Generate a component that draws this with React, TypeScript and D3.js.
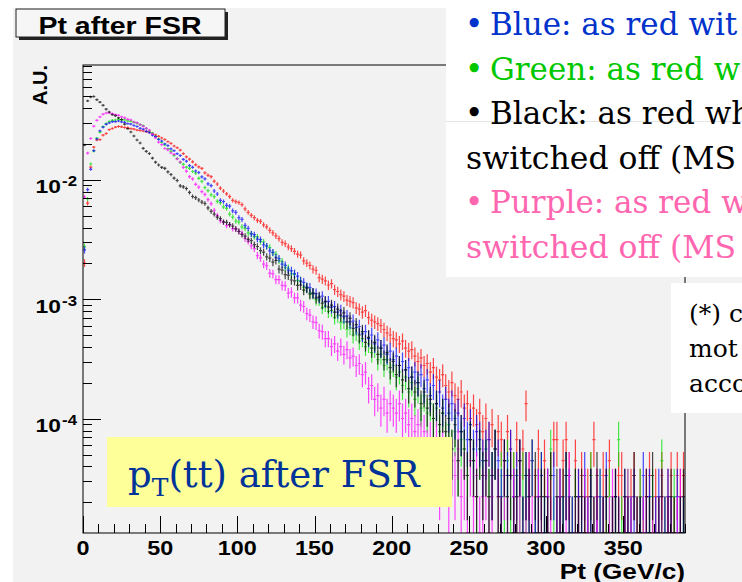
import React from "react";
import * as d3 from "d3";

// ---- data (entries per 2 GeV bin, normalised by UNIT to A.U.) ----
const UNIT = 1.12e-5;
const BIN_GEV = 2;
const X_MAX = 390;
const Y_MIN = 1.11e-5;
const Y_MAX = 0.0917;
const xTickLabels = [0, 50, 100, 150, 200, 250, 300, 350];
const yDecadeExponents = [-4, -3, -2];

const redCounts = [
  180, 571, 1143, 1679, 1929, 1946, 2116, 2188, 2357, 2410,
  2475, 2502, 2488, 2455, 2440, 2405, 2380, 2336, 2318, 2296,
  2270, 2244, 2175, 2128, 2070, 2004, 1948, 1872, 1806, 1718,
  1662, 1589, 1484, 1396, 1332, 1268, 1196, 1148, 1116, 1024,
  978, 952, 872, 826, 764, 722, 684, 648, 604, 588,
  578, 556, 512, 478, 452, 432, 410, 402, 376, 362,
  338, 322, 304, 288, 268, 262, 246, 238, 226, 214,
  210, 188, 180, 172, 160, 156, 136, 132, 128, 118,
  121, 108, 104, 98, 95, 88, 86, 84, 76, 74,
  70, 72, 63, 60, 58, 56, 54, 50, 47, 45,
  42, 41, 38, 40, 35, 33, 34, 30, 27, 29,
  25, 26, 22, 24, 20, 19, 21, 17, 15, 18,
  14, 13, 15, 11, 12, 9, 11, 8, 10, 7,
  9, 6, 8, 5, 7, 6, 4, 7, 5, 3,
  6, 4, 5, 12, 3, 4, 2, 5, 3, 4,
  2, 3, 6, 6, 2, 4, 6, 3, 1, 4,
  2, 3, 1, 2, 3, 6, 2, 1, 3, 2,
  4, 1, 2, 3, 3, 1, 0, 2, 3, 1,
  2, 1, 2, 3, 1, 2, 0, 3, 1, 2,
  3, 1, 3, 2, 3,
];

const blueCounts = [
  232, 741, 1098, 1572, 1968, 2301, 2467, 2612, 2681, 2744,
  2752, 2781, 2733, 2712, 2648, 2620, 2549, 2501, 2418, 2372,
  2281, 2224, 2118, 2062, 1948, 1893, 1790, 1733, 1628, 1571,
  1482, 1431, 1329, 1282, 1178, 1141, 1062, 1031, 948, 912,
  828, 801, 722, 681, 603, 590, 548, 539, 492, 478,
  432, 418, 372, 351, 316, 311, 286, 283, 256, 250,
  228, 221, 201, 196, 176, 172, 157, 155, 147, 140,
  127, 124, 113, 112, 101, 100, 92, 95, 85, 86,
  77, 78, 70, 72, 64, 65, 58, 59, 52, 53,
  46, 48, 42, 45, 38, 41, 35, 37, 31, 33,
  28, 30, 25, 27, 23, 24, 20, 22, 18, 21,
  16, 19, 14, 17, 12, 15, 11, 13, 10, 12,
  9, 10, 7, 9, 6, 8, 5, 7, 6, 4,
  5, 6, 3, 5, 4, 2, 4, 3, 5, 2,
  3, 4, 1, 3, 2, 4, 1, 2, 3, 1,
  2, 0, 3, 1, 2, 1, 3, 2, 1, 0,
  2, 1, 3, 1, 2, 0, 1, 2, 1, 3,
  0, 1, 2, 1, 0, 2, 1, 1, 2, 0,
  1, 3, 1, 2, 0, 1, 2, 0, 1, 2,
  1, 0, 2, 1, 1,
];

const greenCounts = [
  247, 620, 1214, 1560, 2003, 2238, 2497, 2651, 2755, 2823,
  2838, 2871, 2842, 2847, 2796, 2768, 2713, 2668, 2594, 2547,
  2408, 2296, 2213, 2071, 1968, 1842, 1751, 1632, 1548, 1432,
  1351, 1253, 1208, 1142, 1118, 1052, 1017, 922, 868, 772,
  728, 671, 648, 592, 576, 533, 516, 462, 437, 404,
  396, 362, 351, 322, 318, 299, 298, 273, 271, 250,
  243, 219, 213, 190, 185, 166, 162, 146, 145, 129,
  127, 113, 112, 101, 99, 89, 88, 76, 79, 71,
  72, 63, 65, 57, 58, 50, 52, 45, 47, 40,
  42, 36, 38, 32, 35, 28, 31, 25, 28, 22,
  25, 20, 22, 17, 20, 15, 18, 13, 16, 11,
  14, 10, 12, 9, 11, 7, 10, 6, 8, 5,
  7, 4, 6, 5, 3, 6, 4, 2, 5, 3,
  4, 2, 3, 5, 1, 3, 2, 4, 1, 3,
  2, 1, 3, 2, 0, 4, 1, 2, 3, 1,
  2, 5, 1, 0, 2, 1, 3, 0, 1, 2,
  1, 0, 2, 1, 3, 1, 0, 2, 1, 1,
  2, 0, 1, 6, 1, 0, 2, 1, 0, 1,
  2, 1, 0, 1, 2, 0, 1, 4, 1, 0,
  1, 2, 0, 1, 1,
];

const magentaCounts = [
  643, 1500, 1985, 2518, 2822, 3010, 3170, 3246, 3262, 3205,
  3150, 3107, 3010, 2961, 2874, 2838, 2731, 2687, 2598, 2512,
  2418, 2336, 2172, 2008, 1851, 1762, 1638, 1594, 1503, 1462,
  1342, 1262, 1139, 1058, 952, 911, 822, 778, 713, 676,
  612, 566, 498, 452, 408, 395, 371, 376, 349, 348,
  331, 318, 289, 274, 251, 238, 208, 199, 176, 171,
  148, 146, 131, 131, 117, 116, 101, 103, 92, 92,
  80, 78, 68, 66, 58, 57, 49, 48, 42, 42,
  36, 38, 33, 36, 31, 34, 29, 30, 25, 26,
  21, 22, 16, 17, 13, 14, 11, 13, 10, 12,
  11, 10, 12, 9, 10, 8, 9, 7, 8, 6,
  7, 5, 6, 4, 6, 3, 5, 4, 2, 4,
  3, 5, 2, 3, 1, 4, 2, 3, 1, 2,
  3, 1, 2, 0, 2, 1, 3, 1, 0, 2,
  1, 2, 0, 1, 3, 1, 0, 2, 1, 0,
  2, 1, 0, 1, 2, 0, 1, 3, 0, 1,
  1, 0, 2, 1, 0, 1, 2, 0, 1, 0,
  1, 2, 0, 1, 0, 1, 2, 1, 0, 1,
  0, 1, 2, 0, 1, 0, 1, 2, 0, 1,
  1, 0, 1, 2, 0,
];

const blackCounts = [
  1750, 4100, 4420, 4464, 4196, 4009, 3768, 3496, 3310, 3148,
  3083, 2952, 2866, 2618, 2402, 2251, 2086, 1928, 1822, 1641,
  1549, 1487, 1362, 1258, 1191, 1137, 1118, 1046, 992, 926,
  884, 798, 782, 757, 703, 649, 634, 607, 583, 568,
  521, 488, 463, 436, 423, 398, 395, 378, 368, 348,
  332, 312, 302, 284, 277, 257, 248, 229, 222, 203,
  198, 183, 189, 160, 157, 144, 142, 130, 128, 117,
  118, 107, 111, 99, 101, 92, 94, 83, 86, 77,
  80, 70, 74, 66, 69, 58, 62, 51, 55, 45,
  48, 39, 43, 35, 39, 31, 35, 28, 32, 24,
  27, 21, 25, 19, 23, 16, 20, 15, 18, 12,
  15, 11, 13, 9, 12, 8, 10, 7, 9, 5,
  8, 4, 7, 5, 3, 6, 4, 2, 5, 3,
  4, 2, 3, 5, 2, 1, 4, 2, 3, 1,
  2, 4, 1, 3, 2, 0, 3, 1, 2, 2,
  1, 3, 0, 2, 1, 2, 3, 1, 0, 2,
  1, 2, 1, 0, 2, 1, 3, 0, 1, 2,
  0, 1, 2, 1, 0, 2, 1, 0, 3, 1,
  1, 0, 2, 1, 3, 0, 1, 2, 0, 1,
  2, 1, 0, 1, 2,
];

const seriesList = [
  { name: "red", color: "#ff0000", counts: redCounts },
  { name: "green", color: "#00e000", counts: greenCounts },
  { name: "blue", color: "#0000ff", counts: blueCounts },
  { name: "magenta", color: "#ff00ff", counts: magentaCounts },
  { name: "black", color: "#000000", counts: blackCounts },
];

const legendLines = [
  { text: "Blue: as red wit", color: "#0033cc", bullet: true },
  { text: "Green: as red w", color: "#00c800", bullet: true },
  { text: "Black: as red wh", color: "#000000", bullet: true },
  { text: "switched off (MS", color: "#000000", bullet: false },
  { text: "Purple: as red w", color: "#ff66b0", bullet: true },
  { text: "switched off (MS", color: "#ff66b0", bullet: false },
];
const noteLines = ["(*) c", "mot", "acco"];

// ---- layout ----
const W = 742;
const H = 582;
const F = { l: 83, r: 685, t: 65, b: 533 };
const ROOT_FONT = "'Liberation Sans', Arial, Helvetica, sans-serif";
const SERIF = "'DejaVu Serif', Georgia, serif";

export default function App() {
  const x = d3.scaleLinear().domain([0, X_MAX]).range([F.l, F.r]);
  const y = d3.scaleLog().domain([Y_MIN, Y_MAX]).range([F.b, F.t]);

  const buildPath = (counts: number[]) => {
    let d = "";
    counts.forEach((n, i) => {
      if (n <= 0) return;
      const v = n * UNIT;
      const e = Math.sqrt(n) * UNIT;
      const x0 = x(i * BIN_GEV);
      const x1 = x((i + 1) * BIN_GEV);
      const xc = x((i + 0.5) * BIN_GEV);
      const yv = y(v);
      const yh = Math.min(y(v + e), yv - 1.2);
      const yl = v - e > 0 ? Math.max(y(v - e), yv + 1.2) : F.b + 20;
      d += `M${x0.toFixed(1)},${yv.toFixed(1)}H${x1.toFixed(1)}M${xc.toFixed(1)},${yh.toFixed(1)}V${yl.toFixed(1)}`;
    });
    return d;
  };

  const xMinor = d3.range(0, X_MAX + 0.001, 10);
  const yTicks: { v: number; major: boolean }[] = [];
  for (let e = -5; e <= -2; e++) {
    for (let k = 1; k <= 9; k++) {
      const v = k * Math.pow(10, e);
      if (v >= Y_MIN && v <= Y_MAX) yTicks.push({ v, major: k === 1 });
    }
  }

  return (
    <svg
      width={W}
      height={H}
      viewBox={`0 0 ${W} ${H}`}
      style={{ position: "absolute", left: 0, top: 0, background: "#ffffff" }}
    >
      <defs>
        <clipPath id="frameClip">
          <rect x={F.l} y={F.t} width={F.r - F.l} height={F.b - F.t} />
        </clipPath>
      </defs>
      {/* canvas */}
      <rect x={0} y={0} width={W} height={H} fill="#ffffff" />
      <rect x={13} y={8} width={W - 13} height={H - 8} fill="#f2f2f2" />

      {/* title box */}
      <rect x={19} y={12} width={209} height={28} fill="#222" />
      <rect x={16} y={9} width={209} height={28} fill="#f6f6f6" stroke="#222" strokeWidth={1} />
      <g transform={`translate(120,34) scale(1.24,1)`}>
        <text textAnchor="middle" fontFamily={ROOT_FONT} fontWeight="bold" fontSize={23} fill="#000">
          Pt after FSR
        </text>
      </g>

      {/* data */}
      <g clipPath="url(#frameClip)">
        {seriesList.map((s) => (
          <path key={s.name} d={buildPath(s.counts)} stroke={s.color} strokeWidth={1.2} strokeOpacity={0.72} fill="none" />
        ))}
      </g>

      {/* frame */}
      <rect x={F.l} y={F.t} width={F.r - F.l} height={F.b - F.t} fill="none" stroke="#000" strokeWidth={1} />

      {/* x ticks */}
      {xMinor.map((t) => {
        const major = t % 50 === 0;
        const xx = Math.round(x(t)) + 0.5;
        return <line key={`xt${t}`} x1={xx} x2={xx} y1={F.b} y2={F.b - (major ? 17 : 9)} stroke="#000" strokeWidth={1} />;
      })}
      {xTickLabels.map((t) => (
        <g key={`xl${t}`} transform={`translate(${x(t)},555) scale(1.2,1)`}>
          <text textAnchor="middle" fontFamily={ROOT_FONT} fontWeight="bold" fontSize={19.5} fill="#000">
            {t}
          </text>
        </g>
      ))}
      <g transform={`translate(${F.r},579) scale(1.22,1)`}>
        <text textAnchor="end" fontFamily={ROOT_FONT} fontWeight="bold" fontSize={21.5} fill="#000">
          Pt (GeV/c)
        </text>
      </g>

      {/* y ticks */}
      {yTicks.map((t, i) => {
        const yy = Math.round(y(t.v)) + 0.5;
        return <line key={`yt${i}`} x1={F.l} x2={F.l + (t.major ? 18 : 9)} y1={yy} y2={yy} stroke="#000" strokeWidth={1} />;
      })}
      {yDecadeExponents.map((e) => (
        <g key={`yl${e}`} transform={`translate(77,${y(Math.pow(10, e)) + 13.5}) scale(1.2,1)`}>
          <text textAnchor="end" fontFamily={ROOT_FONT} fontWeight="bold" fontSize={19} fill="#000">
            10
            <tspan dy={-7} dx={1} fontSize={14}>{`${e}`}</tspan>
          </text>
        </g>
      ))}
      <text
        transform={`translate(47,${F.t}) rotate(-90)`}
        textAnchor="end"
        fontFamily={ROOT_FONT}
        fontWeight="bold"
        fontSize={20}
        fill="#000"
      >
        A.U.
      </text>

      {/* yellow label */}
      <rect x={107} y={437} width={345} height={70} fill="#ffff99" />
      <text x={128} y={487} fontFamily={SERIF} fontSize={37} fill="#003399">
        p
        <tspan dy={9} fontSize={25}>T</tspan>
        <tspan dy={-9}>(tt) after FSR</tspan>
      </text>

      {/* slide text box (right) */}
      <rect x={446} y={0} width={W - 446} height={277} fill="#ffffff" />
      <line x1={446} x2={W} y1={121.5} y2={121.5} stroke="#e4e4e4" strokeWidth={1} />
      {legendLines.map((l, i) => {
        const by = 35 + i * 44.6;
        return l.bullet ? (
          <g key={`lg${i}`}>
            <text x={465} y={by} fontFamily={SERIF} fontSize={31} fill={l.color}>•</text>
            <text x={490} y={by} fontFamily={SERIF} fontSize={31} fill={l.color}>{l.text}</text>
          </g>
        ) : (
          <text key={`lg${i}`} x={466} y={by} fontFamily={SERIF} fontSize={31.5} fill={l.color}>{l.text}</text>
        );
      })}

      {/* footnote box */}
      <rect x={671} y={283} width={W - 671} height={130} fill="#ffffff" />
      {noteLines.map((t, i) => (
        <text key={`nt${i}`} x={689} y={322 + i * 35} fontFamily={SERIF} fontSize={25} fill="#000">
          {t}
        </text>
      ))}
    </svg>
  );
}
